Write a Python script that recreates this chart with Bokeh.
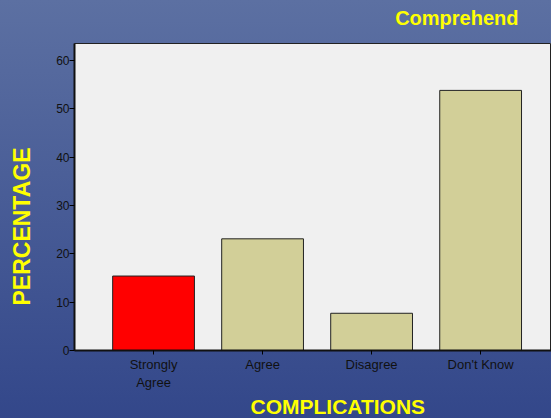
from bokeh.plotting import figure
from bokeh.models import Title, FixedTicker, Range1d, InlineStyleSheet
from bokeh.embed import file_html
from bokeh.resources import INLINE

categories = ["Strongly Agree", "Agree", "Disagree", "Don't Know"]
tick_labels = ["Strongly\nAgree", "Agree", "Disagree", "Don't Know"]
values = [15.4, 23.1, 7.7, 53.8]
colors = ["#ff0000", "#d2cf98", "#d2cf98", "#d2cf98"]
y_ticks = [0, 10, 20, 30, 40, 50, 60]

xs = list(range(len(categories)))

p = figure(width=551, height=418, output_backend="svg", toolbar_location=None,
           x_range=Range1d(-0.725, 3.65), y_range=Range1d(0, 63.5),
           min_border_left=74, min_border_top=43, min_border_bottom=68, min_border_right=0)
p.border_fill_color = None
p.background_fill_color = "#f0f0f0"
p.outline_line_color = "#222222"
p.outline_line_width = 1
p.grid.visible = False

p.vbar(x=xs, top=values, width=0.75, fill_color=colors, line_color="#222222", line_width=1)

p.xaxis.ticker = FixedTicker(ticks=xs)
p.xaxis.major_label_overrides = {i: t for i, t in enumerate(tick_labels)}
p.xaxis.major_label_text_font = "Liberation Sans"
p.xaxis.major_label_text_font_size = "13px"
p.xaxis.major_label_text_color = "#111111"
p.xaxis.major_tick_out = 4
p.xaxis.major_tick_in = 0
p.xaxis.minor_tick_line_color = None
p.xaxis.major_label_standoff = 2
p.xaxis.axis_line_color = "#111111"
p.xaxis.axis_line_width = 2

p.yaxis.ticker = FixedTicker(ticks=y_ticks)
p.yaxis.major_label_text_font = "Liberation Sans"
p.yaxis.major_label_text_font_size = "12px"
p.yaxis.major_label_text_color = "#111111"
p.yaxis.major_tick_out = 5
p.yaxis.major_tick_in = 0
p.yaxis.minor_tick_line_color = None
p.yaxis.major_label_standoff = 0
p.yaxis.axis_line_color = "#111111"
p.yaxis.axis_line_width = 2

# spacer between frame and top title
p.add_layout(Title(text=" ", text_font_size="1px", standoff=8), "above")
t_top = Title(text="Comprehend", align="right", text_color="#ffff00",
              text_font="Liberation Sans", text_font_size="20px", text_font_style="bold",
              offset=33, standoff=8)
p.add_layout(t_top, "above")

t_bottom = Title(text="COMPLICATIONS", align="left", text_color="#ffff00",
                 text_font="Liberation Sans", text_font_size="21px", text_font_style="bold",
                 offset=176, standoff=0)
p.add_layout(t_bottom, "below")

# spacer between y axis and left title
p.add_layout(Title(text=" ", text_font_size="1px", standoff=12), "left")
t_left = Title(text="PERCENTAGE", align="left", text_color="#ffff00",
               text_font="Liberation Sans", text_font_size="23px", text_font_style="bold",
               offset=45, standoff=8)
p.add_layout(t_left, "left")

p.stylesheets = [InlineStyleSheet(css=":host { background: linear-gradient(to bottom, #5c70a2, #33478a); }")]

html = file_html(p, INLINE)
html = html.replace("<body>", "<body style=\"background: linear-gradient(to bottom, #5c70a2, #33478a); background-attachment: fixed;\">", 1)
open("out.html", "w").write(html)
